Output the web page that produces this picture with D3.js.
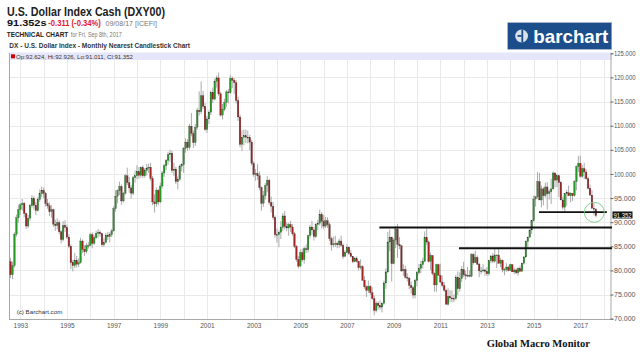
<!DOCTYPE html>
<html><head><meta charset="utf-8">
<script src="https://cdn.jsdelivr.net/npm/d3@7/dist/d3.min.js"></script>
<style>
html,body{margin:0;padding:0;background:#fff;}
svg{display:block;font-family:"Liberation Sans",Arial,sans-serif;}
</style></head><body>
<svg id="c" width="640" height="355"></svg>
<script>
// ---- DATA: monthly candles, first bar = Aug 1992 ----
const firstYear = 1992, firstMonth = 7; // 0-based month (Aug)
const opens = [
81.8,79.1,81.0,87.5,90.9,
92.6,93.6,93.9,91.8,89.2,90.8,93.4,94.9,93.5,92.4,94.7,95.9,
96.6,96.0,93.9,93.4,92.2,92.6,89.6,89.3,89.9,88.0,86.4,89.3,
88.9,86.9,85.0,81.6,81.0,82.1,81.3,81.6,86.1,84.4,83.9,85.1,
85.2,87.4,85.6,86.8,87.7,87.9,87.6,85.3,85.8,87.3,87.0,87.4,
88.2,92.8,95.4,96.5,97.4,94.4,96.0,99.6,98.2,97.1,96.0,99.2,
99.6,100.5,99.7,101.3,99.6,100.7,101.2,101.4,99.1,94.2,93.8,96.6,
94.2,97.5,100.2,101.7,102.8,104.0,104.3,100.7,101.0,98.4,98.9,101.6,
101.9,105.3,106.6,105.5,109.9,108.4,106.5,109.7,113.2,112.9,116.2,114.0,
109.2,111.4,112.8,116.9,115.5,119.2,119.9,116.6,112.2,113.4,114.8,117.0,
116.8,119.8,119.4,118.9,115.2,111.8,106.1,107.6,107.9,107.6,107.5,106.6,
102.2,99.9,100.1,99.6,97.2,93.9,95.5,97.6,98.7,94.1,93.3,91.0,
87.4,87.4,87.9,88.9,91.3,89.1,88.8,89.5,89.0,87.6,85.0,82.3,
80.9,83.7,82.2,84.5,84.3,87.2,89.0,88.4,87.0,89.5,89.8,91.6,
90.2,89.2,90.3,89.5,86.6,85.3,85.5,85.6,85.3,86.1,85.2,82.9,
83.7,84.8,83.5,82.9,81.8,82.4,81.9,80.6,80.8,78.0,76.6,75.9,
76.7,75.4,74.2,71.7,73.2,72.7,72.4,73.2,77.4,79.7,85.9,86.9,
81.4,86.3,88.6,85.4,85.1,79.9,80.2,78.6,78.4,76.9,76.4,74.9,
77.9,79.5,80.4,81.2,81.9,86.8,85.9,81.9,83.1,79.4,77.0,81.2,
79.0,77.6,76.9,75.9,73.0,74.6,74.3,74.1,74.2,78.6,76.2,78.3,
80.2,79.1,78.9,79.0,78.8,83.3,81.6,82.7,81.3,79.9,79.9,80.1,
79.8,79.3,82.0,83.0,81.9,83.2,83.2,81.5,82.1,80.2,80.2,80.7,
80.0,81.2,79.7,80.1,79.5,80.4,79.8,81.5,82.8,86.0,86.9,88.4,
90.3,94.8,95.3,98.4,94.6,96.9,95.5,97.3,95.9,96.3,96.9,100.2,
98.7,99.6,98.2,94.6,93.1,95.9,96.1,95.5,96.0,95.5,98.4,101.5,
102.2,99.5,101.1,100.4,99.0,97.0,95.6,92.9,92.624
];
const highs = [
82.6,81.8,87.9,91.6,93.6,
94.0,94.8,94.2,92.0,91.5,93.8,95.6,95.4,94.2,95.2,96.8,97.4,
97.2,96.3,94.8,94.1,93.5,92.8,90.5,90.8,90.4,88.3,90.2,90.4,
89.5,87.5,85.4,82.2,83.6,83.0,82.5,86.8,86.4,85.2,85.7,85.9,
87.8,87.9,87.3,88.2,88.6,88.3,87.8,86.7,87.8,88.0,87.9,88.6,
93.3,96.6,96.8,98.4,97.8,96.3,100.0,101.3,99.4,97.7,99.6,100.7,
101.8,101.4,101.5,101.8,101.2,102.1,102.1,102.3,99.6,95.8,97.2,96.9,
98.2,100.6,102.1,103.1,104.6,105.0,104.8,102.3,101.5,99.5,101.9,102.2,
105.6,107.4,107.2,110.4,112.6,109.0,110.4,113.7,117.1,119.2,117.2,114.7,
112.0,113.2,117.3,117.9,119.7,120.4,121.0,117.0,114.5,115.6,117.4,117.6,
120.5,120.2,119.9,119.5,116.0,112.3,109.0,109.2,109.2,109.0,108.1,107.1,
102.6,101.0,102.0,100.5,97.4,96.5,98.1,99.5,99.0,95.3,94.2,91.4,
88.7,88.3,90.2,91.9,92.3,90.0,89.9,90.3,89.6,88.0,85.3,83.0,
84.3,84.5,84.9,85.4,87.4,89.4,90.3,89.0,89.8,90.5,92.6,92.1,
91.5,91.1,91.0,89.9,87.0,87.0,87.2,86.0,86.6,87.2,85.6,84.2,
85.4,85.0,84.2,83.0,82.8,82.9,82.0,82.3,81.1,78.8,76.9,77.9,
77.0,76.5,74.8,73.6,73.6,73.8,73.4,77.9,80.4,88.0,88.5,87.0,
86.7,89.2,89.6,86.9,85.3,81.3,81.0,79.4,78.7,77.7,76.8,78.3,
79.9,81.3,82.0,82.6,88.1,88.7,86.2,83.7,83.2,79.6,81.4,81.4,
81.4,78.9,77.6,76.1,76.3,75.9,75.9,75.0,79.1,79.8,79.6,80.9,
81.8,79.9,80.7,80.0,83.6,83.6,84.1,83.1,81.6,80.7,81.3,80.4,
80.7,82.2,83.2,83.6,84.5,83.3,84.8,82.6,82.3,80.5,81.5,81.0,
81.4,81.3,80.6,80.4,80.6,81.0,81.6,82.9,86.2,87.0,88.4,90.3,
95.5,95.3,100.4,100.2,97.6,97.3,98.2,98.3,96.8,99.0,100.5,100.3,
100.0,99.8,98.6,95.3,96.0,96.7,97.6,96.2,96.0,98.7,101.8,103.7,
103.8,101.8,102.3,101.0,99.4,97.8,96.6,94.1,92.926
];
const lows = [
78.4,78.2,80.6,87.0,89.9,
91.5,92.4,91.0,88.6,88.8,90.3,93.0,92.6,91.5,92.2,94.2,95.2,
95.0,93.2,92.8,91.3,90.9,89.0,88.2,88.5,87.5,85.6,86.0,88.0,
86.5,84.6,80.3,79.8,80.5,80.6,80.7,81.4,83.6,83.0,83.5,84.5,
85.0,84.6,85.3,86.5,86.8,87.0,84.9,84.9,85.6,86.3,85.8,86.9,
88.0,92.2,93.9,95.6,93.6,94.1,95.7,97.7,96.1,94.9,95.6,98.2,
98.9,99.0,99.2,99.2,99.2,99.7,100.2,98.6,93.5,92.0,93.2,93.5,
93.9,97.0,99.4,100.8,101.9,102.5,100.2,99.6,97.9,96.8,98.6,100.5,
100.2,104.4,104.8,105.0,107.8,105.4,105.8,109.2,112.1,112.4,113.5,108.9,
108.5,110.3,112.2,114.7,115.3,117.9,116.2,111.9,111.3,113.0,113.9,114.6,
116.6,117.8,116.6,114.6,111.0,105.5,104.7,105.9,106.4,106.3,104.9,101.8,
99.4,98.6,98.8,96.6,92.4,93.2,94.7,96.2,93.6,92.0,90.5,86.8,
85.8,84.8,86.5,88.2,88.5,88.1,87.2,88.0,87.2,84.6,81.8,80.4,
80.8,81.8,81.4,83.6,83.7,86.6,87.4,86.2,86.7,88.4,89.3,88.7,
88.6,88.8,88.8,86.1,84.1,84.8,84.9,84.6,84.7,84.9,82.4,82.8,
83.6,83.2,82.7,81.5,81.7,81.6,80.0,80.2,77.8,76.2,74.5,75.3,
74.9,73.9,70.7,71.3,71.9,71.9,71.3,72.9,76.2,79.4,84.0,77.7,
81.3,84.6,82.6,84.4,79.7,78.9,78.3,77.7,76.1,75.2,74.2,74.2,
76.7,79.1,79.4,80.4,81.7,85.3,81.6,80.1,79.0,75.6,75.6,78.9,
77.4,76.5,75.6,72.9,72.7,73.5,73.4,73.4,73.8,74.9,75.6,77.6,
78.6,78.1,78.6,78.6,78.6,81.2,81.6,81.1,78.6,79.2,79.6,78.9,
78.9,78.9,81.5,81.6,81.6,80.5,81.4,80.7,79.6,79.0,79.7,79.8,
79.9,79.7,79.2,79.2,78.9,79.7,79.8,81.2,82.6,84.5,86.8,87.6,
90.1,93.2,94.9,94.6,93.1,93.5,95.1,92.6,94.7,93.8,96.8,97.2,
97.3,95.2,94.6,92.6,91.9,93.4,95.4,94.1,94.4,95.3,96.6,100.4,
99.2,99.2,98.9,98.8,96.8,95.5,92.8,91.4,91.011
];
const closes = [
79.1,81.0,87.5,90.9,92.6,
93.6,93.9,91.8,89.2,90.8,93.4,94.9,93.5,92.4,94.7,95.9,96.6,
96.0,93.9,93.4,92.2,92.6,89.6,89.3,89.9,88.0,86.4,89.3,88.9,
86.9,85.0,81.6,81.0,82.1,81.3,81.6,86.1,84.4,83.9,85.1,85.2,
87.4,85.6,86.8,87.7,87.9,87.6,85.3,85.8,87.3,87.0,87.4,88.2,
92.8,95.4,96.5,97.4,94.4,96.0,99.6,98.2,97.1,96.0,99.2,99.6,
100.5,99.7,101.3,99.6,100.7,101.2,101.4,99.1,94.2,93.8,96.6,94.2,
97.5,100.2,101.7,102.8,104.0,104.3,100.7,101.0,98.4,98.9,101.6,101.9,
105.3,106.6,105.5,109.9,108.4,106.5,109.7,113.2,112.9,116.2,114.0,109.2,
111.4,112.8,116.9,115.5,119.2,119.9,116.6,112.2,113.4,114.8,117.0,116.8,
119.8,119.4,118.9,115.2,111.8,106.1,107.6,107.9,107.6,107.5,106.6,102.2,
99.9,100.1,99.6,97.2,93.9,95.5,97.6,98.7,94.1,93.3,91.0,87.4,
87.4,87.9,88.9,91.3,89.1,88.8,89.5,89.0,87.6,85.0,82.3,80.9,
83.7,82.2,84.5,84.3,87.2,89.0,88.4,87.0,89.5,89.8,91.6,90.2,
89.2,90.3,89.5,86.6,85.3,85.5,85.6,85.3,86.1,85.2,82.9,83.7,
84.8,83.5,82.9,81.8,82.4,81.9,80.6,80.8,78.0,76.6,75.9,76.7,
75.4,74.2,71.7,73.2,72.7,72.4,73.2,77.4,79.7,85.9,86.9,81.4,
86.3,88.6,85.4,85.1,79.9,80.2,78.6,78.4,76.9,76.4,74.9,77.9,
79.5,80.4,81.2,81.9,86.8,85.9,81.9,83.1,79.4,77.0,81.2,79.0,
77.6,76.9,75.9,73.0,74.6,74.3,74.1,74.2,78.6,76.2,78.3,80.2,
79.1,78.9,79.0,78.8,83.3,81.6,82.7,81.3,79.9,79.9,80.1,79.8,
79.3,82.0,83.0,81.9,83.2,83.2,81.5,82.1,80.2,80.2,80.7,80.0,
81.2,79.7,80.1,79.5,80.4,79.8,81.5,82.8,86.0,86.9,88.4,90.3,
94.8,95.3,98.4,94.6,96.9,95.5,97.3,95.9,96.3,96.9,100.2,98.7,
99.6,98.2,94.6,93.1,95.9,96.1,95.5,96.0,95.5,98.4,101.5,102.2,
99.5,101.1,100.4,99.0,97.0,95.6,92.9,92.7,91.352
];
const yTickValues = [70,75,80,85,90,95,100,105,110,115,120,125];
const xLabelYears = [1993,1995,1997,1999,2001,2003,2005,2007,2009,2011,2013,2015,2017];
const gridYears = [1993,1994,1995,1996,1997,1998,1999,2000,2001,2002,2003,2004,2005,2006,2007,2008,2009,2010,2011,2012,2013,2014,2015,2016,2017,2018];
// annotation levels drawn on the chart: [startYear, endYear, value, weight]
const hLines = [[2008.39, 2018.36, 88.9, 2], [2011.80, 2018.36, 84.6, 2], [2015.23, 2018.14, 92.08, 1.6]];
const circleMark = [2017.6, 92.05];
const lastQuote = {o: 92.624, h: 92.926, l: 91.011, c: 91.352};

// ---- SCALES ----
const svg = d3.select("#c");
const x = d3.scaleLinear().domain([1993, 2017]).range([20.3, 580.3]);
const y = d3.scaleLinear().domain([70, 125]).range([318.7, 53.3]);
const L = 9, R = 612, T = 53, B = 319;

// ---- HEADER ----
function txt(s, px, py, size, weight, fill, len, family) {
  const t = svg.append("text").attr("x", px).attr("y", py).attr("font-size", size)
    .attr("font-weight", weight).attr("fill", fill).text(s);
  if (len) t.attr("textLength", len).attr("lengthAdjust", "spacingAndGlyphs");
  if (family) t.attr("font-family", family);
  return t;
}
txt("U.S. Dollar Index Cash (DXY00)", 7, 15.5, 12.5, "bold", "#222", 158);
txt("91.352s", 7, 26.3, 9, "bold", "#111", 39.5);
txt("-0.311 (-0.34%)", 48.3, 26.3, 9, "bold", "#e0201c", 52.5);
txt("09/08/17 [ICEFI]", 105.5, 26.3, 7.2, "normal", "#777", 51.5);
txt("TECHNICAL CHART", 6.7, 36.7, 7, "bold", "#222", 61.6);
txt("for Fri, Sep 8th, 2017", 70.7, 36.7, 7, "normal", "#777", 51);
txt("DX - U.S. Dollar Index - Monthly Nearest Candlestick Chart", 9.3, 48.3, 7.5, "bold", "#333", 180.7);

// logo
const logo = svg.append("g");
logo.append("rect").attr("x", 507.7).attr("y", 22.7).attr("width", 104).attr("height", 26.6)
  .attr("fill", "#1b4e8a").attr("stroke", "#9aa8b8").attr("stroke-width", 0.6);
logo.append("circle").attr("cx", 521.6).attr("cy", 36).attr("r", 6.4).attr("fill", "#d9e1ea");
logo.append("rect").attr("x", 521.4).attr("y", 29.5).attr("width", 1.8).attr("height", 13).attr("fill", "#1b4e8a");
logo.append("rect").attr("x", 517.5).attr("y", 35).attr("width", 4).attr("height", 1.8).attr("fill", "#1b4e8a");
txt("barchart", 533.3, 43, 19, "bold", "#fff", 75);

// ---- PLOT BACKGROUND + GRID ----
const grid = svg.append("g").attr("stroke", "#e9e9e9").attr("stroke-width", 1);
grid.selectAll("line.h").data(yTickValues).join("line")
  .attr("x1", L).attr("x2", R).attr("y1", d => Math.round(y(d)) + 0.5).attr("y2", d => Math.round(y(d)) + 0.5);
grid.selectAll("line.v").data(gridYears).join("line")
  .attr("x1", d => Math.round(x(d)) + 0.5).attr("x2", d => Math.round(x(d)) + 0.5).attr("y1", T).attr("y2", B);

// legend band
svg.append("rect").attr("x", L).attr("y", T - 0.5).attr("width", R - L).attr("height", 7.5).attr("fill", "#e6e6fa");
svg.append("rect").attr("x", 11).attr("y", 54.3).attr("width", 4).attr("height", 4).attr("fill", "#d40000");
txt(`Op:${lastQuote.o}, Hi:${lastQuote.h}, Lo:${lastQuote.l}, Cl:${lastQuote.c}`, 16, 58.6, 5.5, "normal", "#333", 117);

// frame
svg.append("line").attr("x1", L + 0.5).attr("x2", L + 0.5).attr("y1", T).attr("y2", B).attr("stroke", "#a8a8a8");
svg.append("line").attr("x1", L).attr("x2", R).attr("y1", B + 0.5).attr("y2", B + 0.5).attr("stroke", "#a8a8a8");

// ---- AXES ----
const yAxis = d3.axisRight(y).tickValues(yTickValues).tickSize(3).tickFormat(d3.format(".3f"));
const gy = svg.append("g").attr("transform", `translate(${R - 1.5},0)`).call(yAxis);
gy.select(".domain").attr("stroke", "#a8a8a8");
gy.selectAll(".tick line").attr("stroke", "#666");
gy.selectAll(".tick text").attr("font-size", 6.5).attr("fill", "#555").attr("x", 3.5)
  .attr("font-family", "Liberation Sans, Arial, sans-serif").attr("textLength", 21.5).attr("lengthAdjust", "spacingAndGlyphs");

const xAxis = d3.axisBottom(x).tickValues(xLabelYears).tickSize(0).tickFormat(d3.format("d"));
const gx = svg.append("g").attr("transform", `translate(0,${B})`).call(xAxis);
gx.select(".domain").remove();
gx.selectAll(".tick text").attr("font-size", 6.5).attr("fill", "#555").attr("y", 4)
  .attr("font-family", "Liberation Sans, Arial, sans-serif");

txt("(c) Barchart.com", 16.7, 313.8, 5.5, "normal", "#333", 45.6);

// ---- CANDLES ----
const candles = closes.map((c, i) => ({
  t: firstYear + (firstMonth + i) / 12, o: opens[i], h: highs[i], l: lows[i], c: c
}));
const cg = svg.append("g");
cg.selectAll("line.w").data(candles).join("line")
  .attr("x1", d => x(d.t)).attr("x2", d => x(d.t))
  .attr("y1", d => y(d.h)).attr("y2", d => y(d.l))
  .attr("stroke", "#a0a0a0").attr("stroke-width", 0.9);
cg.selectAll("rect.b").data(candles).join("rect")
  .attr("x", d => x(d.t) - 0.8).attr("width", 1.6)
  .attr("y", d => y(Math.max(d.o, d.c)))
  .attr("height", d => Math.max(0.8, Math.abs(y(d.o) - y(d.c))))
  .attr("fill", d => d.c >= d.o ? "#249a24" : "#a32222")
  .attr("stroke", "#333").attr("stroke-width", 0.25);

// ---- ANNOTATIONS ----
svg.selectAll("line.hl").data(hLines).join("line")
  .attr("x1", d => x(d[0])).attr("x2", d => x(d[1]))
  .attr("y1", d => y(d[2])).attr("y2", d => y(d[2]))
  .attr("stroke", "#111").attr("stroke-width", d => d[3]);
svg.append("circle").attr("cx", x(circleMark[0])).attr("cy", y(circleMark[1])).attr("r", 10)
  .attr("fill", "none").attr("stroke", "#86d08e").attr("stroke-width", 1);

// current price label
const py = y(lastQuote.c);
svg.append("rect").attr("x", R + 0.5).attr("y", py - 4.2).attr("width", 20).attr("height", 7)
  .attr("fill", "#111");
txt("91.352", R + 1.5, py + 2, 6.5, "normal", "#fff", 18);

// footer
txt("Global Macro Monitor", 486.7, 346.5, 11, "bold", "#111", 103.3, "Liberation Serif, Times New Roman, serif");
</script>
</body></html>
